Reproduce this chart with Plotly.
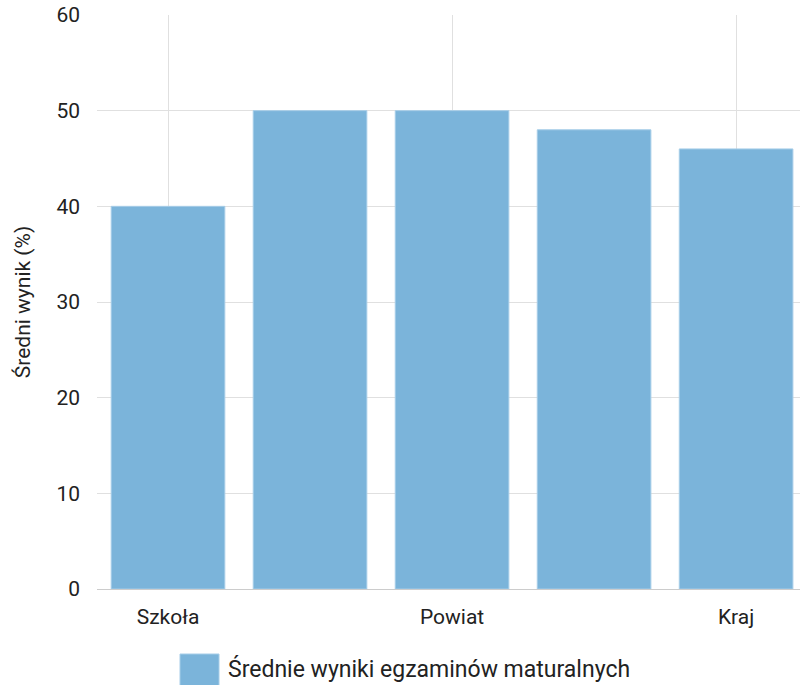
import plotly.graph_objects as go

categories = ["Szkoła", "Gmina", "Powiat", "Województwo", "Kraj"]
values = [40, 50, 50, 48, 46]
shown_ticks = ["Szkoła", "Powiat", "Kraj"]
y_ticks = [0, 10, 20, 30, 40, 50, 60]
series_name = "Średnie wyniki egzaminów maturalnych"
y_title = "Średni wynik (%)"

BAR = "#7bb4da"
FONT = "Roboto, Arial, sans-serif"
TXT = "#222222"

fig = go.Figure()
fig.add_trace(go.Bar(
    x=categories, y=values, name=series_name,
    marker=dict(color=BAR, line=dict(color="#a6cde8", width=1)),
    width=0.8, showlegend=False,
))

# plot area on screen: x 97 -> 800, y 15 -> 589
W, H = 703.0, 574.0
def px(x): return (x - 97) / W
def py(y): return (589 - y) / H

fig.update_layout(
    width=800, height=685,
    margin=dict(l=97, r=0, t=15, b=96),
    paper_bgcolor="white", plot_bgcolor="white",
    font=dict(family=FONT, size=22, color=TXT),
    xaxis=dict(
        type="category", categoryorder="array", categoryarray=categories,
        range=[-0.5, 4.45], automargin=False,
        tickmode="array", tickvals=shown_ticks, ticktext=shown_ticks,
        showgrid=True, gridcolor="#e0e0e0", gridwidth=1,
        showline=True, linecolor="#cccccc", linewidth=1,
        ticks="", ticklabelstandoff=9,
        tickfont=dict(size=21, color=TXT),
    ),
    yaxis=dict(
        range=[0, 60], tickvals=y_ticks, automargin=False,
        showgrid=True, gridcolor="#e0e0e0", gridwidth=1,
        zeroline=False, showline=False,
        ticks="", ticklabelstandoff=16, ticklabeloverflow="allow",
        tickfont=dict(size=21, color=TXT),
        title=dict(text=y_title, font=dict(size=21, color=TXT), standoff=20),
    ),
    bargap=0.2,
)

# legend drawn as swatch + label below the plot
fig.add_shape(
    type="rect", xref="paper", yref="paper",
    x0=px(180), x1=px(219), y0=py(694), y1=py(654),
    fillcolor=BAR, line=dict(color="#a6cde8", width=1), layer="above",
)
fig.add_annotation(
    xref="paper", yref="paper", x=px(226), y=py(669),
    text=series_name, showarrow=False, xanchor="left", yanchor="middle",
    font=dict(family=FONT, size=23, color=TXT),
)

fig.write_html("out.html", config={"displayModeBar": False},
               post_script="document.body.style.margin='0';")
